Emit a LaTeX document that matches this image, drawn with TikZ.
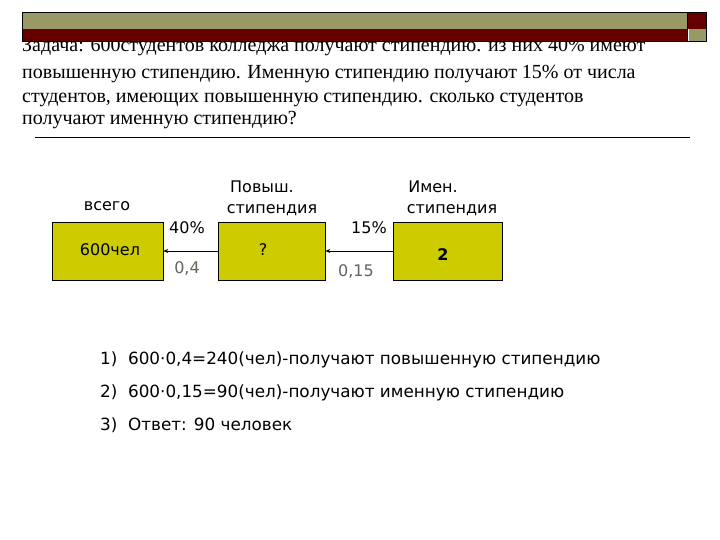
\documentclass[tikz,border=0pt]{standalone}
\usepackage{fontspec}
\setmainfont{Liberation Serif}
\newfontfamily\comic{DejaVu Sans}
\usetikzlibrary{arrows.meta}
\definecolor{olivebar}{RGB}{153,153,102}
\definecolor{darkred}{RGB}{102,0,0}
\definecolor{boxfill}{RGB}{204,204,0}
\definecolor{graytxt}{RGB}{100,100,90}
\tikzset{
  probline/.style={anchor=base west, inner sep=0pt, font=\fontsize{20}{20}\selectfont},
  box/.style={draw=black, line width=0.6pt, fill=boxfill, minimum width=#1, minimum height=58pt, inner sep=0pt},
  lbl/.style={inner sep=0pt, font=\comic\fontsize{16}{16}\selectfont},
  glbl/.style={inner sep=0pt, text=graytxt, font=\comic\fontsize{16}{16}\selectfont},
  listline/.style={anchor=base west, inner sep=0pt, font=\comic\fontsize{16.8}{16.8}\selectfont},
  conn/.style={line width=0.5pt, -{Stealth[length=5pt,width=4pt]}}
}
\begin{document}
\begin{tikzpicture}[x=1pt,y=-1pt]
\useasboundingbox (0,0) rectangle (720,540);
\fill[white] (0,0) rectangle (720,540);
% problem text
\node[probline] (t1) at (22,52) {Задача: 600студентов колледжа получают стипендию. из них 40\% имеют};
\node[probline] (t2) at (22,79) {повышенную стипендию. Именную стипендию получают 15\% от числа};
\node[probline] (t3) at (22,103) {студентов, имеющих повышенную стипендию. сколько студентов};
\node[probline] (t4) at (22,125) {получают именную стипендию?};
% header bar
\fill[darkred] (22,29) rectangle (687,41);
\fill[olivebar] (22,12) rectangle (687,29);
\draw[line width=0.5pt] (22,12) rectangle (687,41);
\fill[darkred] (687,12) rectangle (706,29);
\fill[olivebar] (689,29) rectangle (706,41);
\draw[line width=0.5pt] (687,12) rectangle (706,41);
% rule
\draw[line width=0.8pt] (35,137) -- (690,137);
% boxes
\node[box=111pt] (b1) at (107.5,251) {};
\node[box=107pt] (b2) at (271.5,251) {};
\node[box=109pt] (b3) at (447.5,251) {};
\node[lbl] (v1) at (110,250) {600чел};
\node[lbl] (v2) at (263,250) {?};
\node[lbl, font=\comic\bfseries\fontsize{16}{16}\selectfont] (v3) at (443,255) {2};
% headings
\node[lbl] (h1) at (107,206) {всего};
\node[lbl] (h2a) at (262,187) {Повыш.};
\node[lbl] (h2b) at (272,210) {стипендия};
\node[lbl] (h3a) at (433,187) {Имен.};
\node[lbl] (h3b) at (452,210) {стипендия};
% connectors
\draw[conn] (b2.west) -- (b1.east);
\draw[conn] (b3.west) -- (b2.east);
\node[lbl] (p1) at (187,228) {40\%};
\node[glbl] (q1) at (187,268) {0,4};
\node[lbl] (p2) at (369,228) {15\%};
\node[glbl] (q2) at (356,271) {0,15};
% solution list
\node[listline] (s1) at (100,364) {1)\ \ 600·0,4=240(чел)-получают повышенную стипендию};
\node[listline] (s2) at (100,397) {2)\ \ 600·0,15=90(чел)-получают именную стипендию};
\node[listline] (s3) at (100,430) {3)\ \ Ответ: 90 человек};
\end{tikzpicture}
\end{document}
